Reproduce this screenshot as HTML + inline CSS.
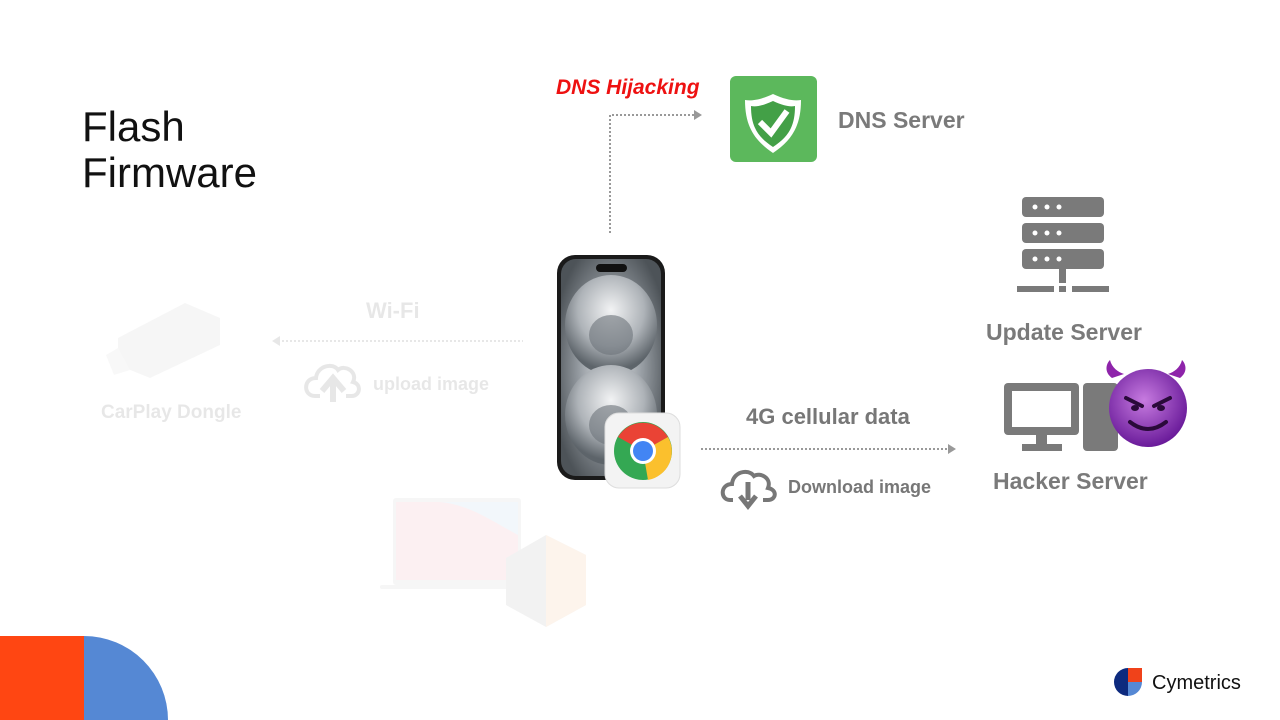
<!DOCTYPE html>
<html><head><meta charset="utf-8"><style>
html,body{margin:0;padding:0;background:#fff;}
body{width:1280px;height:720px;position:relative;overflow:hidden;font-family:"Liberation Sans",sans-serif;}
svg{position:absolute;left:0;top:0;}
</style></head><body>
<svg width="1280" height="720" viewBox="0 0 1280 720" xmlns="http://www.w3.org/2000/svg">
<defs>
<radialGradient id="scr" cx="50%" cy="50%" r="60%">
<stop offset="0" stop-color="#e8eaec"/><stop offset="0.5" stop-color="#9aa0a6"/><stop offset="1" stop-color="#4d5358"/>
</radialGradient>
<radialGradient id="bub" cx="50%" cy="35%" r="60%">
<stop offset="0" stop-color="#f2f3f4"/><stop offset="0.6" stop-color="#aeb3b8"/><stop offset="1" stop-color="#5d646a"/>
</radialGradient>
<radialGradient id="dev" cx="45%" cy="40%" r="60%">
<stop offset="0" stop-color="#c77be0"/><stop offset="1" stop-color="#6a1b9a"/>
</radialGradient>
</defs>
<text x="82" y="141" font-size="42" fill="#111">Flash</text>
<text x="82" y="187" font-size="42" fill="#111">Firmware</text>

<text x="556" y="94" font-size="21" font-weight="bold" font-style="italic" fill="#ee1111">DNS Hijacking</text>
<path d="M610 233 V115 H694" fill="none" stroke="#999" stroke-width="2" stroke-dasharray="2 2"/>
<path d="M694 110 L702 115 L694 120 Z" fill="#999"/>

<rect x="730" y="76" width="87" height="86" rx="6" fill="#5cb85c"/>
<path d="M773 94 C786 100 794 101 801 100 C801 126 792 140 773 153 C754 140 745 126 745 100 C752 101 760 100 773 94 Z" fill="#fff"/>
<path d="M773 101 C784 106 790 107 795 106 C795 127 788 137 773 147 C758 137 751 127 751 106 C756 107 762 106 773 101 Z" fill="#43a047"/>
<path d="M760 122 L771 133 L787 111" fill="none" stroke="#fff" stroke-width="6"/>
<text x="838" y="128" font-size="23" font-weight="bold" fill="#7a7a7a">DNS Server</text>

<rect x="557" y="255" width="108" height="225" rx="18" fill="#1a1a1a"/>
<rect x="561" y="259" width="100" height="217" rx="15" fill="url(#scr)"/>
<ellipse cx="611" cy="325" rx="46" ry="50" fill="url(#bub)"/>
<ellipse cx="611" cy="415" rx="46" ry="50" fill="url(#bub)"/>
<ellipse cx="611" cy="335" rx="22" ry="20" fill="#6c737a" opacity="0.6"/>
<ellipse cx="611" cy="425" rx="22" ry="20" fill="#6c737a" opacity="0.6"/>
<rect x="596" y="264" width="31" height="8" rx="4" fill="#111"/>
<rect x="605" y="413" width="75" height="75" rx="14" fill="#f3f3f3" stroke="#ddd"/>
<circle cx="643" cy="451" r="29" fill="#34a853"/>
<path d="M643 451 L618 437 A29 29 0 0 1 668 437 Z" fill="#ea4335"/>
<path d="M643 451 L668 437 A29 29 0 0 1 648 480 Z" fill="#fbc02d"/>
<circle cx="643" cy="451" r="13" fill="#fff"/>
<circle cx="643" cy="451" r="10" fill="#4285f4"/>

<text x="746" y="424" font-size="22" font-weight="bold" fill="#777">4G cellular data</text>
<path d="M701 449 H948" stroke="#999" stroke-width="2" stroke-dasharray="2 2"/>
<path d="M948 444 L956 449 L948 454 Z" fill="#999"/>
<path d="M733 500 H730 C720 500 720 484 732 484 C733 472 748 468 754 476 C760 472 772 478 768 488 C778 490 776 500 768 500 H763" fill="none" stroke="#777" stroke-width="4"/>
<path d="M748 482 V500 M740 496 L748 506 L756 496" fill="none" stroke="#777" stroke-width="5"/>
<text x="788" y="493" font-size="18" font-weight="bold" fill="#777">Download image</text>

<g fill="#7a7a7a">
<rect x="1022" y="197" width="82" height="20" rx="4"/>
<rect x="1022" y="223" width="82" height="20" rx="4"/>
<rect x="1022" y="249" width="82" height="20" rx="4"/>
<rect x="1059" y="269" width="7" height="14"/>
<rect x="1017" y="286" width="37" height="6"/><rect x="1059" y="286" width="7" height="6"/><rect x="1072" y="286" width="37" height="6"/>
</g>
<g fill="#fff"><circle cx="1035" cy="207" r="2.5"/><circle cx="1047" cy="207" r="2.5"/><circle cx="1059" cy="207" r="2.5"/>
<circle cx="1035" cy="233" r="2.5"/><circle cx="1047" cy="233" r="2.5"/><circle cx="1059" cy="233" r="2.5"/>
<circle cx="1035" cy="259" r="2.5"/><circle cx="1047" cy="259" r="2.5"/><circle cx="1059" cy="259" r="2.5"/></g>
<text x="986" y="340" font-size="23" font-weight="bold" fill="#7a7a7a">Update Server</text>

<rect x="1004" y="383" width="75" height="52" rx="4" fill="#7a7a7a"/>
<rect x="1012" y="391" width="59" height="36" fill="#fff"/>
<rect x="1036" y="435" width="11" height="10" fill="#7a7a7a"/>
<rect x="1022" y="444" width="40" height="7" fill="#7a7a7a"/>
<rect x="1083" y="383" width="35" height="68" rx="4" fill="#7a7a7a"/>
<path d="M1112 378 C1104 372 1106 364 1110 360 C1112 368 1118 372 1124 374 Z" fill="#8e24aa"/>
<path d="M1180 378 C1188 372 1186 364 1182 360 C1180 368 1174 372 1168 374 Z" fill="#8e24aa"/>
<circle cx="1148" cy="408" r="39" fill="url(#dev)"/>
<path d="M1126 398 L1142 406 M1170 398 L1154 406" stroke="#2a0a3a" stroke-width="4" stroke-linecap="round"/>
<ellipse cx="1135" cy="408" rx="4" ry="3" fill="#2a0a3a"/><ellipse cx="1161" cy="408" rx="4" ry="3" fill="#2a0a3a"/>
<path d="M1130 422 Q1148 436 1166 422" fill="none" stroke="#2a0a3a" stroke-width="4" stroke-linecap="round"/>
<text x="993" y="489" font-size="23" font-weight="bold" fill="#7a7a7a">Hacker Server</text>

<g opacity="0.12">
<path d="M118 338 L185 303 L220 318 L220 345 L150 378 L118 365 Z" fill="#bbb"/>
<path d="M106 355 L118 348 L130 370 L114 375 Z" fill="#ccc"/>
<text x="101" y="418" font-size="19" font-weight="bold" fill="#444">CarPlay Dongle</text>
<text x="366" y="318" font-size="22" font-weight="bold" fill="#444">Wi-Fi</text>
<path d="M278 341 H523" stroke="#444" stroke-width="2" stroke-dasharray="2 2"/>
<path d="M280 336 L272 341 L280 346 Z" fill="#444"/>
<path d="M320 396 H315 C303 396 303 378 316 378 C317 366 333 362 338 370 C345 364 358 372 353 382 C362 384 360 396 352 396 H346" fill="none" stroke="#444" stroke-width="4"/>
<path d="M333 402 V382 M322 391 L333 378 L344 391" fill="none" stroke="#444" stroke-width="6"/>
<text x="373" y="390" font-size="18" font-weight="bold" fill="#444">upload image</text>
</g>
<g opacity="0.25">
<rect x="393" y="498" width="128" height="87" rx="3" fill="#ddd"/>
<rect x="396" y="502" width="122" height="78" fill="#f6c6cc"/>
<path d="M396 502 H518 V535 C490 520 470 505 440 502 Z" fill="#cde3f3"/>
<rect x="380" y="585" width="143" height="4" rx="2" fill="#ddd"/>
<path d="M506 558 L546 535 L586 555 L586 605 L546 627 L506 605 Z" fill="#ccc"/>
<path d="M546 535 L586 555 L586 605 L546 627 Z" fill="#f8d6b8"/>
</g>

<rect x="0" y="636" width="84" height="84" fill="#ff4612"/>
<path d="M84 636 H84 A84 84 0 0 1 168 720 H84 Z" fill="#5588d4"/>
<path d="M1128 668 A14 14 0 0 0 1128 696 Z" fill="#0d2a7e"/>
<rect x="1128" y="668" width="14" height="14" fill="#f0421a"/>
<path d="M1128 682 H1142 A14 14 0 0 1 1128 696 Z" fill="#5588d4"/>
<text x="1152" y="689" font-size="20" fill="#111">Cymetrics</text>
</svg>
</body></html>
